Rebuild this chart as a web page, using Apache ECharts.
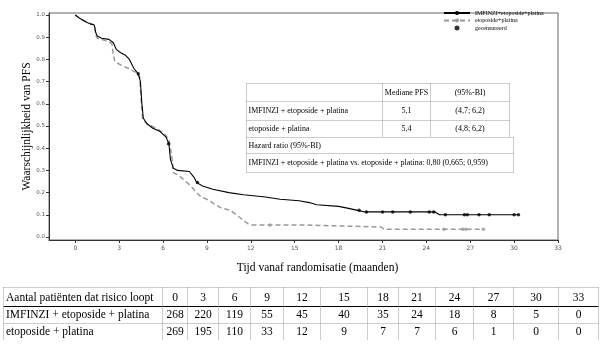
<!DOCTYPE html>
<html>
<head>
<meta charset="utf-8">
<script src="https://cdn.jsdelivr.net/npm/echarts@6/dist/echarts.min.js"></script>
<style>
  html, body { margin: 0; padding: 0; background: #fff; }
  #chart { width: 606px; height: 350px; }
</style>
</head>
<body>
<div id="chart"></div>
<script>
// Kaplan-Meier curves
var imfinziTime = [0, 0.3, 0.7, 1.0, 1.3, 1.4, 1.5, 1.8, 2.3, 2.6, 2.8, 3.1, 3.4, 3.7, 4.0, 4.3, 4.45, 4.55, 4.65, 4.9, 5.3, 5.8, 6.2, 6.4, 6.5, 6.7, 7.0, 7.8, 8.1, 8.3, 8.7, 9.4, 10.5, 11.5, 13.0, 14.0, 15.3, 16.0, 16.5, 18.0, 18.6, 19.3, 19.8, 24.6, 24.9, 30.3];
var imfinziPfs = [1.0, 0.985, 0.97, 0.96, 0.955, 0.92, 0.905, 0.895, 0.89, 0.875, 0.845, 0.83, 0.82, 0.80, 0.76, 0.735, 0.70, 0.60, 0.535, 0.51, 0.49, 0.475, 0.45, 0.42, 0.35, 0.31, 0.30, 0.295, 0.27, 0.245, 0.23, 0.215, 0.20, 0.19, 0.18, 0.17, 0.163, 0.155, 0.145, 0.138, 0.13, 0.12, 0.113, 0.113, 0.10, 0.10];

var etoTime = [0, 0.4, 0.9, 1.3, 1.4, 1.5, 1.8, 2.3, 2.5, 2.6, 2.7, 3.1, 3.6, 4.2, 4.4, 4.5, 4.6, 4.9, 5.5, 6.0, 6.4, 6.6, 6.7, 7.0, 7.3, 7.9, 8.3, 8.6, 9.0, 9.6, 10.0, 10.6, 11.0, 11.4, 11.8, 12.1, 15.7, 15.8, 20.9, 21.1, 27.9];
var etoPfs = [1.0, 0.98, 0.965, 0.955, 0.91, 0.895, 0.89, 0.88, 0.87, 0.82, 0.79, 0.775, 0.76, 0.74, 0.72, 0.62, 0.53, 0.51, 0.49, 0.47, 0.44, 0.36, 0.29, 0.28, 0.265, 0.23, 0.20, 0.18, 0.17, 0.145, 0.13, 0.12, 0.10, 0.08, 0.06, 0.054, 0.054, 0.045, 0.045, 0.035, 0.035];

// censored observations
var imfinziCensTime = [4.3, 6.37, 8.35, 19.4, 19.9, 21.0, 21.7, 22.9, 24.2, 24.5, 25.3, 26.6, 26.8, 27.6, 28.3, 30.0, 30.3];
var imfinziCensPfs = [0.735, 0.42, 0.245, 0.12, 0.113, 0.113, 0.113, 0.113, 0.113, 0.113, 0.10, 0.10, 0.10, 0.10, 0.10, 0.10, 0.10];
var etoCensTime = [13.3, 25.2, 26.5, 26.7, 27.9];
var etoCensPfs = [0.054, 0.035, 0.035, 0.035, 0.035];

// axes
var xTicks = [0, 3, 6, 9, 12, 15, 18, 21, 24, 27, 30, 33];
var yTicks = [0, 0.1, 0.2, 0.3, 0.4, 0.5, 0.6, 0.7, 0.8, 0.9, 1.0];

// number at risk
var riskMonths = [0, 3, 6, 9, 12, 15, 18, 21, 24, 27, 30, 33];
var riskImfinzi = [268, 220, 119, 55, 45, 40, 35, 24, 18, 8, 5, 0];
var riskEtoposide = [269, 195, 110, 33, 12, 9, 7, 7, 6, 1, 0, 0];

// median PFS / hazard ratio inset
var medianHeader = ['', 'Mediane PFS', '(95%-BI)'];
var medianRows = [
  ['IMFINZI + etoposide + platina', '5,1', '(4,7; 6,2)'],
  ['etoposide + platina', '5,4', '(4,8; 6,2)']
];
var hazardTitle = 'Hazard ratio (95%-BI)';
var hazardText = 'IMFINZI + etoposide + platina vs. etoposide + platina: 0,80 (0,665; 0,959)';

var serif = 'Liberation Serif';

function zip(a, b) {
  return a.map(function (v, i) { return [v, b[i]]; });
}

function line(x1, y1, x2, y2, dotted) {
  return {
    type: 'line', silent: true,
    shape: { x1: x1, y1: y1, x2: x2, y2: y2 },
    style: { stroke: dotted ? '#9a9a9a' : '#000', lineWidth: 1, lineDash: dotted ? [1, 1] : null }
  };
}

function text(x, y, str, align, size) {
  return {
    type: 'text', silent: true, x: x, y: y,
    style: { text: str, fontFamily: serif, fontSize: size, fill: '#000', align: align, verticalAlign: 'middle' }
  };
}

var graphics = [];

// inset table
(function () {
  var left = 246.5, c1 = 382.5, c2 = 430.5, right = 509.5, rightHr = 513.5;
  var rows = [83.5, 101.5, 120.5, 137.5, 153.5, 172.5];
  var fs = 8;
  graphics.push(line(left, rows[0], right, rows[0], true));
  graphics.push(line(left, rows[1], right, rows[1], true));
  graphics.push(line(left, rows[2], right, rows[2], true));
  graphics.push(line(left, rows[3], rightHr, rows[3], true));
  graphics.push(line(left, rows[4], rightHr, rows[4], true));
  graphics.push(line(left, rows[5], rightHr, rows[5], true));
  graphics.push(line(left, rows[0], left, rows[5], true));
  graphics.push(line(c1, rows[0], c1, rows[3], true));
  graphics.push(line(c2, rows[0], c2, rows[3], true));
  graphics.push(line(right, rows[0], right, rows[3], true));
  graphics.push(line(rightHr, rows[3], rightHr, rows[5], true));
  var all = [medianHeader].concat(medianRows);
  all.forEach(function (r, i) {
    var y = (rows[i] + rows[i + 1]) / 2;
    graphics.push(text(left + 2, y, r[0], 'left', fs));
    graphics.push(text((c1 + c2) / 2, y, r[1], 'center', fs));
    graphics.push(text((c2 + right) / 2, y, r[2], 'center', fs));
  });
  graphics.push(text(left + 2, (rows[3] + rows[4]) / 2, hazardTitle, 'left', fs));
  graphics.push(text(left + 2, (rows[4] + rows[5]) / 2, hazardText, 'left', fs));
})();

// number at risk table
(function () {
  var seps = [3.5, 162.5, 187.5, 218.5, 250.5, 283.5, 320.5, 367.5, 398.5, 435.5, 473.5, 513.5, 558.5, 598.5];
  var top = 287.5, mid = 306.5, mid2 = 323.5, bottom = 340;
  var fs = 11.5;
  graphics.push(line(seps[0], top, seps[seps.length - 1], top, true));
  graphics.push(line(seps[0], mid, seps[seps.length - 1], mid, false));
  graphics.push(line(seps[0], mid2, seps[seps.length - 1], mid2, true));
  seps.forEach(function (x) { graphics.push(line(x, top, x, bottom, true)); });
  var ys = [297.5, 315, 332];
  graphics.push(text(6, ys[0], 'Aantal patiënten dat risico loopt', 'left', fs));
  graphics.push(text(6, ys[1], 'IMFINZI + etoposide + platina', 'left', fs));
  graphics.push(text(6, ys[2], 'etoposide + platina', 'left', fs));
  riskMonths.forEach(function (m, i) {
    var cx = (seps[i + 1] + seps[i + 2]) / 2;
    graphics.push(text(cx, ys[0], String(m), 'center', fs));
    graphics.push(text(cx, ys[1], String(riskImfinzi[i]), 'center', fs));
    graphics.push(text(cx, ys[2], String(riskEtoposide[i]), 'center', fs));
  });
})();

var chart = echarts.init(document.getElementById('chart'));

var option = {
  backgroundColor: '#fff',
  animation: false,
  grid: {
    show: true, left: 49, right: 48, top: 13, bottom: 110,
    borderColor: '#666', borderWidth: 1
  },
  legend: {
    data: ['IMFINZI+etoposide+platina', 'etoposide+platina', 'gecensureerd'],
    orient: 'vertical',
    left: 443, top: 10,
    itemWidth: 26, itemHeight: 5, itemGap: 1.5, padding: 0,
    textStyle: { fontFamily: serif, fontSize: 6, color: '#000', lineHeight: 6 }
  },
  xAxis: {
    type: 'value', min: -1.8, max: 33,
    name: 'Tijd vanaf randomisatie (maanden)',
    nameLocation: 'middle', nameGap: 22,
    nameTextStyle: { fontFamily: serif, fontSize: 11.5, color: '#000', padding: [0, 0, 0, 28] },
    axisLine: { show: true, onZero: false, lineStyle: { color: '#333', width: 1 } },
    axisTick: { show: true, customValues: xTicks, length: 3, lineStyle: { color: '#333' } },
    axisLabel: { customValues: xTicks, fontSize: 6, color: '#555', margin: 5, fontFamily: 'DejaVu Sans' },
    splitLine: { show: false }
  },
  yAxis: {
    type: 'value', min: -0.0135, max: 1.009,
    name: 'Waarschijnlijkheid van PFS',
    nameLocation: 'middle', nameGap: 16, nameMoveOverlap: false,
    nameTextStyle: { fontFamily: serif, fontSize: 11.5, color: '#000' },
    axisLine: { show: true, onZero: false, lineStyle: { color: '#333', width: 1 } },
    axisTick: { show: true, customValues: yTicks, length: 3, lineStyle: { color: '#333' } },
    axisLabel: {
      customValues: yTicks, fontSize: 5.5, color: '#555', margin: 4, fontFamily: 'DejaVu Sans',
      formatter: function (v) { return v.toFixed(1); }
    },
    splitLine: { show: false }
  },
  series: [
    {
      name: 'IMFINZI+etoposide+platina', type: 'line',
      data: zip(imfinziTime, imfinziPfs),
      showSymbol: false, symbol: 'circle', symbolSize: 4,
      lineStyle: { color: '#000', width: 1.1 },
      itemStyle: { color: '#000' }, z: 4
    },
    {
      name: 'etoposide+platina', type: 'line',
      data: zip(etoTime, etoPfs),
      showSymbol: false, symbol: 'circle', symbolSize: 4,
      lineStyle: { color: '#999', width: 1.5, type: [5, 3] },
      itemStyle: { color: '#999' }, z: 3
    },
    {
      name: 'gecensureerd', type: 'scatter',
      data: zip(imfinziCensTime, imfinziCensPfs),
      symbol: 'circle', symbolSize: 3.5,
      itemStyle: { color: '#000' }, z: 5
    },
    {
      name: 'etoCensored', type: 'scatter',
      data: zip(etoCensTime, etoCensPfs),
      symbol: 'circle', symbolSize: 3.5,
      itemStyle: { color: '#999' }, z: 5
    }
  ],
  graphic: graphics
};

chart.setOption(option);
</script>
</body>
</html>
